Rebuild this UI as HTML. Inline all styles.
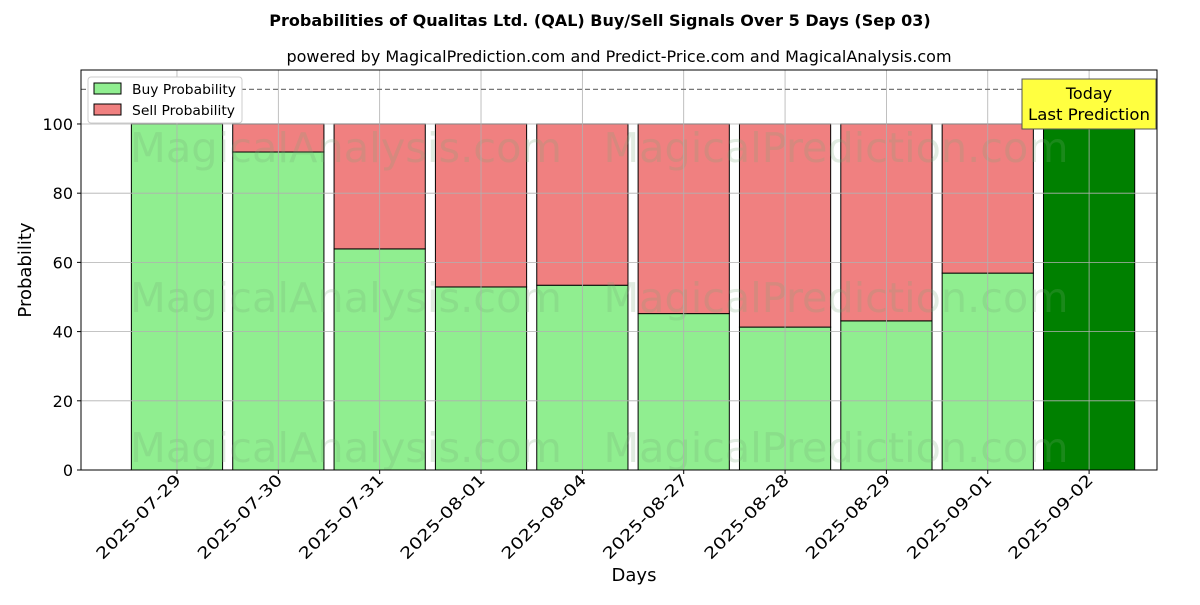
<!DOCTYPE html>
<html><head><meta charset="utf-8"><style>
body{margin:0;background:#fff;font-family:"Liberation Sans","DejaVu Sans",sans-serif}
</style></head><body>
<svg id="chart" width="1200" height="600" xmlns="http://www.w3.org/2000/svg" font-family="DejaVu Sans, Liberation Sans, sans-serif">
<rect width="1200" height="600" fill="#fff"/>
<text x="600" y="26" text-anchor="middle" font-size="16" font-weight="bold">Probabilities of Qualitas Ltd. (QAL) Buy/Sell Signals Over 5 Days (Sep 03)</text>
<text x="619" y="62" text-anchor="middle" font-size="16">powered by MagicalPrediction.com and Predict-Price.com and MagicalAnalysis.com</text>
<g id="plot"></g>
</svg>
<script>
const categories=["2025-07-29","2025-07-30","2025-07-31","2025-08-01","2025-08-04","2025-08-27","2025-08-28","2025-08-29","2025-09-01","2025-09-02"];
const buyValues=[100,91.9,63.9,52.9,53.4,45.2,41.3,43.1,56.9,100];
const sellValues=[0,8.1,36.1,47.1,46.6,54.8,58.7,56.9,43.1,0];
const yTicks=[0,20,40,60,80,100];
const NS="http://www.w3.org/2000/svg";
const L=81,R=1157,T=70,B=470;
const xMin=-0.947,xMax=9.67,yMin=0,yMax=115.6;
const xs=i=>L+(i-xMin)/(xMax-xMin)*(R-L);
const ys=v=>B-(v-yMin)/(yMax-yMin)*(B-T);
const g=document.getElementById('plot');
function mk(t,a,p){const e=document.createElementNS(NS,t);for(const k in a)e.setAttribute(k,a[k]);(p||g).appendChild(e);return e;}
const bw=0.9*(xs(1)-xs(0));
categories.forEach((c,i)=>{
 const last=i===categories.length-1;
 const x=xs(i)-bw/2;
 const b=mk('rect',{x:x,y:ys(buyValues[i]),width:bw,height:ys(0)-ys(buyValues[i]),fill:last?'#008000':'#90ee90',stroke:'#000','stroke-width':1});
 
 
 if(sellValues[i]>0){
  const s=mk('rect',{x:x,y:ys(buyValues[i]+sellValues[i]),width:bw,height:ys(buyValues[i])-ys(buyValues[i]+sellValues[i]),fill:'#f08080',stroke:'#000','stroke-width':1});
  
  
 }
});
[[346,148,'MagicalAnalysis.com'],[836,148,'MagicalPrediction.com'],[346,298,'MagicalAnalysis.com'],[836,298,'MagicalPrediction.com'],[346,448,'MagicalAnalysis.com'],[836,448,'MagicalPrediction.com']].forEach(w=>{
 const t=mk('text',{x:w[0],y:w[1]+14,'text-anchor':'middle','font-size':41,fill:'rgba(120,170,120,0.22)',textLength:w[2].length>20?465:432,lengthAdjust:'spacingAndGlyphs'});t.textContent=w[2];
 
 
});
yTicks.forEach(v=>{
 const l=mk('line',{x1:L,x2:R,y1:ys(v),y2:ys(v),stroke:'#b0b0b0','stroke-width':0.8});
 
 
 mk('line',{x1:L-4,x2:L,y1:ys(v),y2:ys(v),stroke:'#000'});
 const t=mk('text',{x:L-8,y:ys(v)+6,'text-anchor':'end','font-size':16});t.textContent=v;
 
 
});
categories.forEach((c,i)=>{
 const l=mk('line',{x1:xs(i),x2:xs(i),y1:T,y2:B,stroke:'#b0b0b0','stroke-width':0.8});
 
 
 mk('line',{x1:xs(i),x2:xs(i),y1:B,y2:B+4,stroke:'#000'});
 const ax=xs(i)+5, ay=B+11;
 const t=mk('text',{x:ax,y:ay,'text-anchor':'end','font-size':16,textLength:112,lengthAdjust:'spacingAndGlyphs',transform:`rotate(-45 ${ax} ${ay})`});t.textContent=c;
 
 
});
const d=mk('line',{x1:L,x2:R,y1:ys(110),y2:ys(110),stroke:'#777','stroke-width':1.2,'stroke-dasharray':'5,3'});


const fr=mk('rect',{x:L,y:T,width:R-L,height:B-T,fill:'none',stroke:'#000','stroke-width':1});


const ab=mk('rect',{x:1022,y:79,width:134,height:50,fill:'#ffff40',stroke:'#555','stroke-width':1});


let t1=mk('text',{x:1089,y:99,'text-anchor':'middle','font-size':16});t1.textContent='Today';
let t2=mk('text',{x:1089,y:120,'text-anchor':'middle','font-size':16,textLength:122,lengthAdjust:'spacingAndGlyphs'});t2.textContent='Last Prediction';
let yt=mk('text',{x:31,y:270,'text-anchor':'middle','font-size':18,transform:'rotate(-90 31 270)'});yt.textContent='Probability';


let xt=mk('text',{x:634,y:581,'text-anchor':'middle','font-size':18});xt.textContent='Days';


const lg=mk('g',{});


mk('rect',{x:88,y:77,width:154,height:46,fill:'#fff',stroke:'#ccc',rx:3},lg);
mk('rect',{x:94,y:83,width:27,height:11,fill:'#90ee90',stroke:'#000'},lg);
let lt1=mk('text',{x:132,y:94,'font-size':13,textLength:104,lengthAdjust:'spacingAndGlyphs'},lg);lt1.textContent='Buy Probability';
mk('rect',{x:94,y:104,width:27,height:11,fill:'#f08080',stroke:'#000'},lg);
let lt2=mk('text',{x:132,y:115,'font-size':13,textLength:103,lengthAdjust:'spacingAndGlyphs'},lg);lt2.textContent='Sell Probability';
</script>
</body></html>
